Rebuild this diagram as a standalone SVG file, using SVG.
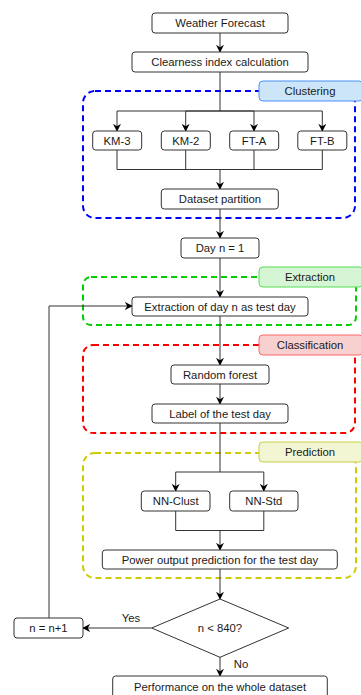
<svg xmlns="http://www.w3.org/2000/svg" width="361" height="695" viewBox="0 0 361 695">
<style>
.node rect, .node polygon { fill: #ffffff; stroke: #333333; stroke-width: 1; }
text { font-family: "Liberation Sans", Arial, sans-serif; font-size: 11.3px; fill: #1a1a1a; text-anchor: middle; }
.edge { fill: none; stroke: #333333; stroke-width: 1; }
.arrow { marker-end: url(#ah); }
.grp { fill: none; stroke-width: 2; stroke-dasharray: 6 4; }
</style>
<defs>
<marker id="ah" viewBox="0 0 10 10" refX="9" refY="5" markerWidth="8" markerHeight="8" markerUnits="userSpaceOnUse" orient="auto">
<path d="M0,0 L10,5 L0,10 L3,5 z" fill="#000000"/>
</marker>
</defs>
<rect width="361" height="695" fill="#ffffff"/>

<g id="groups">
<g id="grp-clustering">
<rect class="grp" x="83" y="91" width="272" height="127" rx="12" stroke="#0000ff"/>
<rect x="259" y="81" width="104" height="20" rx="4" fill="#cce5f8" stroke="#4a90ff"/>
<text x="310" y="95">Clustering</text>
</g>
<g id="grp-extraction">
<rect class="grp" x="83" y="277" width="273" height="48" rx="8" stroke="#00cc00"/>
<rect x="259" y="267" width="104" height="20" rx="4" fill="#d5f5d5" stroke="#55dd55"/>
<text x="310" y="281">Extraction</text>
</g>
<g id="grp-classification">
<rect class="grp" x="83" y="345" width="272" height="88" rx="10" stroke="#ff0000"/>
<rect x="259" y="335" width="104" height="20" rx="4" fill="#f8d0d0" stroke="#ff6666"/>
<text x="310" y="349">Classification</text>
</g>
<g id="grp-prediction">
<rect class="grp" x="83" y="453" width="273" height="125" rx="12" stroke="#cccc00"/>
<rect x="259" y="442" width="104" height="20" rx="4" fill="#f2f6d2" stroke="#cccc44"/>
<text x="310" y="456">Prediction</text>
</g>
</g>

<g id="connectors">
<path class="edge arrow" d="M220,33 V52"/>
<path class="edge arrow" d="M220,72 V111 H117 V131"/>
<path class="edge arrow" d="M220,111 H185.7 V131"/>
<path class="edge arrow" d="M220,111 H254 V131"/>
<path class="edge arrow" d="M220,111 H322.3 V131"/>
<path class="edge" d="M117,150 V169.5 H322.3 V150"/>
<path class="edge" d="M185.7,150 V169.5"/>
<path class="edge" d="M254,150 V169.5"/>
<path class="edge arrow" d="M220,169.5 V189"/>
<path class="edge arrow" d="M220,209 V238"/>
<path class="edge arrow" d="M220,258 V297"/>
<path class="edge arrow" d="M220,316 V365"/>
<path class="edge arrow" d="M220,384 V404"/>
<path class="edge arrow" d="M220,423 V472 H175.7 V491"/>
<path class="edge arrow" d="M220,472 H263.8 V491"/>
<path class="edge" d="M175.7,511 V530.5 H263.8 V511"/>
<path class="edge arrow" d="M220,530.5 V550"/>
<path class="edge arrow" d="M220,569 V599"/>
<path class="edge arrow" d="M151.7,628 H83"/>
<path class="edge arrow" d="M49,618 V306 H132"/>
<path class="edge arrow" d="M220,657 V676"/>
<text x="131" y="622">Yes</text>
<text x="241" y="668">No</text>
</g>

<g id="n-weather" class="node"><rect x="152" y="13" width="136" height="20" rx="3"/><text x="220" y="27">Weather Forecast</text></g>
<g id="n-clearness" class="node"><rect x="132" y="52" width="176" height="20" rx="3"/><text x="220" y="66">Clearness index calculation</text></g>
<g id="n-km3" class="node"><rect x="92.7" y="131" width="49" height="19" rx="3"/><text x="117" y="144.5">KM-3</text></g>
<g id="n-km2" class="node"><rect x="161.3" y="131" width="49" height="19" rx="3"/><text x="185.7" y="144.5">KM-2</text></g>
<g id="n-fta" class="node"><rect x="229.7" y="131" width="49" height="19" rx="3"/><text x="254" y="144.5">FT-A</text></g>
<g id="n-ftb" class="node"><rect x="297.8" y="131" width="49" height="19" rx="3"/><text x="322.3" y="144.5">FT-B</text></g>
<g id="n-dataset" class="node"><rect x="161.3" y="189" width="117" height="20" rx="3"/><text x="220" y="203">Dataset partition</text></g>
<g id="n-day" class="node"><rect x="181" y="238" width="78" height="20" rx="3"/><text x="220" y="252">Day n = 1</text></g>
<g id="n-extraction" class="node"><rect x="132" y="297" width="176" height="19" rx="3"/><text x="220" y="310.5">Extraction of day n as test day</text></g>
<g id="n-rf" class="node"><rect x="171" y="365" width="98" height="19" rx="3"/><text x="220" y="378.5">Random forest</text></g>
<g id="n-label" class="node"><rect x="152" y="404" width="136" height="19" rx="3"/><text x="220" y="417.5">Label of the test day</text></g>
<g id="n-nnclust" class="node"><rect x="141.3" y="491" width="68.7" height="20" rx="3"/><text x="175.7" y="505">NN-Clust</text></g>
<g id="n-nnstd" class="node"><rect x="229.7" y="491" width="68.3" height="20" rx="3"/><text x="263.8" y="505">NN-Std</text></g>
<g id="n-power" class="node"><rect x="102.3" y="550" width="235" height="19" rx="3"/><text x="220" y="563.5">Power output prediction for the test day</text></g>
<g id="n-decision" class="node"><polygon points="220,599 288.7,628 220,657.3 151.7,628"/><text x="220" y="632">n &lt; 840?</text></g>
<g id="n-incr" class="node"><rect x="14" y="618" width="69" height="20" rx="3"/><text x="48.5" y="632">n = n+1</text></g>
<g id="n-perf" class="node"><rect x="112.7" y="676" width="214.6" height="22" rx="3"/><text x="220" y="691">Performance on the whole dataset</text></g>
</svg>
